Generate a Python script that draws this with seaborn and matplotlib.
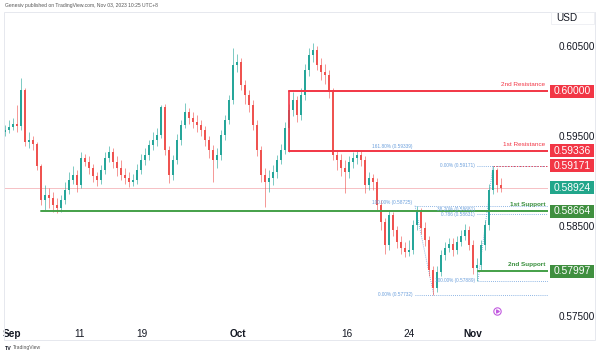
import numpy as np
import pandas as pd
import matplotlib
matplotlib.use("Agg")
import matplotlib.pyplot as plt
import matplotlib.transforms as mtransforms
from matplotlib.patches import Rectangle
import seaborn as sns

# ---------------- data (AUD/USD-like 0.5xxxx prices) ----------------
first_open = 0.59544
closes = [0.59567, 0.59600, 0.59633, 0.59611, 0.60011, 0.59433, 0.59456, 0.59411, 0.59167, 0.58789,
          0.58844, 0.58811, 0.58733, 0.58700, 0.58789, 0.58900, 0.59011, 0.59067, 0.58956, 0.59256,
          0.59211, 0.59144, 0.59056, 0.59011, 0.59122, 0.59256, 0.59322, 0.59211, 0.59144, 0.59067,
          0.59033, 0.58989, 0.59011, 0.59122, 0.59233, 0.59289, 0.59400, 0.59456, 0.59511, 0.59822,
          0.59344, 0.59067, 0.59233, 0.59456, 0.59622, 0.59767, 0.59700, 0.59656, 0.59622, 0.59567,
          0.59456, 0.59344, 0.59233, 0.59289, 0.59511, 0.59678, 0.59900, 0.60289, 0.60322, 0.60067,
          0.59956, 0.59844, 0.59622, 0.59344, 0.59067, 0.58989, 0.59033, 0.59100, 0.59233, 0.59344,
          0.59589, 0.59789, 0.59900, 0.59733, 0.59956, 0.60233, 0.60400, 0.60456, 0.60289, 0.60211,
          0.60178, 0.59989, 0.59289, 0.59233, 0.59144, 0.59100, 0.59211, 0.59256, 0.59289, 0.59233,
          0.58956, 0.59033, 0.58989, 0.58733, 0.58544, 0.58289, 0.58622, 0.58456, 0.58322, 0.58256,
          0.58211, 0.58233, 0.58511, 0.58656, 0.58478, 0.58344, 0.58011, 0.57811, 0.57989, 0.58178,
          0.58256, 0.58300, 0.58233, 0.58322, 0.58389, 0.58456, 0.58289, 0.58033, 0.58067, 0.58289,
          0.58511, 0.58900, 0.59122, 0.58956, 0.58924]
highs = [0.59622, 0.59678, 0.59700, 0.59844, 0.60144, 0.60033, 0.59544, 0.59500, 0.59433, 0.59189,
         0.58956, 0.58922, 0.58878, 0.58811, 0.58844, 0.58989, 0.59100, 0.59167, 0.59122, 0.59322,
         0.59300, 0.59278, 0.59189, 0.59100, 0.59178, 0.59322, 0.59389, 0.59367, 0.59278, 0.59233,
         0.59144, 0.59100, 0.59078, 0.59189, 0.59300, 0.59367, 0.59456, 0.59544, 0.59589, 0.59844,
         0.59856, 0.59389, 0.59289, 0.59522, 0.59678, 0.59867, 0.59811, 0.59767, 0.59733, 0.59678,
         0.59611, 0.59500, 0.59400, 0.59367, 0.59567, 0.59733, 0.59956, 0.60478, 0.60411, 0.60367,
         0.60122, 0.60011, 0.59900, 0.59678, 0.59389, 0.59144, 0.59122, 0.59178, 0.59289, 0.59411,
         0.59656, 0.59856, 0.59989, 0.59944, 0.60033, 0.60300, 0.60478, 0.60533, 0.60500, 0.60367,
         0.60300, 0.60233, 0.60033, 0.59344, 0.59300, 0.59233, 0.59278, 0.59322, 0.59344, 0.59344,
         0.59278, 0.59100, 0.59078, 0.59033, 0.58789, 0.58589, 0.58678, 0.58656, 0.58500, 0.58389,
         0.58322, 0.58344, 0.58567, 0.58725, 0.58700, 0.58544, 0.58389, 0.58056, 0.58056, 0.58233,
         0.58322, 0.58367, 0.58367, 0.58389, 0.58456, 0.58522, 0.58500, 0.58344, 0.58144, 0.58344,
         0.58567, 0.58967, 0.59171, 0.59144, 0.59033]
lows = [0.59500, 0.59533, 0.59567, 0.59544, 0.59567, 0.59389, 0.59367, 0.59344, 0.59122, 0.58733,
        0.58678, 0.58700, 0.58656, 0.58644, 0.58656, 0.58744, 0.58856, 0.58967, 0.58878, 0.58922,
        0.59167, 0.59078, 0.58989, 0.58944, 0.58967, 0.59078, 0.59211, 0.59144, 0.59056, 0.59011,
        0.58967, 0.58933, 0.58944, 0.58967, 0.59078, 0.59178, 0.59233, 0.59344, 0.59389, 0.59478,
        0.59289, 0.58978, 0.59011, 0.59189, 0.59400, 0.59589, 0.59633, 0.59589, 0.59544, 0.59500,
        0.59389, 0.59256, 0.58989, 0.59144, 0.59233, 0.59456, 0.59633, 0.59856, 0.60211, 0.60011,
        0.59856, 0.59767, 0.59567, 0.59278, 0.58989, 0.58711, 0.58878, 0.58956, 0.59033, 0.59189,
        0.59300, 0.59322, 0.59722, 0.59656, 0.59678, 0.59900, 0.60167, 0.60322, 0.60233, 0.60122,
        0.60078, 0.59922, 0.59233, 0.59122, 0.59056, 0.58867, 0.59033, 0.59144, 0.59189, 0.59167,
        0.58867, 0.58900, 0.58900, 0.58678, 0.58456, 0.58189, 0.58233, 0.58389, 0.58256, 0.58189,
        0.58156, 0.58167, 0.58189, 0.58456, 0.58411, 0.58278, 0.57944, 0.57732, 0.57767, 0.57944,
        0.58122, 0.58211, 0.58167, 0.58189, 0.58278, 0.58344, 0.58233, 0.57967, 0.57889, 0.58011,
        0.58233, 0.58456, 0.58856, 0.58878, 0.58878]

tick_labels = ["Sep", "11", "19", "Oct", "16", "24", "Nov"]
tick_pos = [1.75, 18.75, 34.25, 58.25, 85.5, 101.0, 117.0]   # candle index of each date
month_labels = {"Sep", "Oct", "Nov"}
price_ticks = [0.575, 0.585, 0.595, 0.605]   # others hidden behind price boxes

last_price = 0.58924
res2, res1 = 0.60000, 0.59336
sup1, sup2 = 0.58664, 0.57997
swing_high = 0.59171
res_start, sup1_start, sup2_start = 71, 9, 118.25

fib_upper_levels = [0.59339, 0.58725]
fib_upper_labels = ["161.80% (0.59339)", "100.00% (0.58725)"]
fib_mid_levels = [0.59171, 0.58681, 0.58631]
fib_mid_labels = ["0.00% (0.59171)", "38.20% (0.58681)", "0.786 (0.58631)"]
fib_low_levels = [0.57889, 0.57732]
fib_low_labels = ["100.00% (0.57889)", "0.00% (0.57732)"]

# ---------------- figure ----------------
sns.set_theme(style="white")
plt.rcParams["font.family"] = ["Liberation Sans", "DejaVu Sans"]

W, H = 600, 355
fig = plt.figure(figsize=(6.0, 3.55), dpi=100)
fig.patch.set_facecolor("white")
ax = fig.add_axes([4 / W, 1 - 322 / H, 544 / W, 310 / H])
ax.set_facecolor("white")
for s in ax.spines.values():
    s.set_visible(False)

n = len(closes)
idx = np.arange(n)
opens = np.array([first_open] + closes[:-1])
cl = np.array(closes)
hi = np.array(highs)
lo = np.array(lows)
up = cl >= opens
UP, DN = "#26a69a", "#ef5350"
colors = np.where(up, UP, DN)

ax.vlines(idx, lo, hi, colors=colors, lw=0.7, alpha=0.6, zorder=3)
body_bot = np.minimum(opens, cl)
body_h = np.maximum(np.abs(cl - opens), 0.00003)
ax.bar(idx, body_h, bottom=body_bot, width=0.55, color=colors, linewidth=0, zorder=4)

ax.set_xlim(-0.25, 135.75)
ax.set_ylim(0.574333, 0.608778)
xr = ax.get_xlim()[1]

# current price line
ax.axhline(last_price, color="#f5b5ba", lw=0.6, zorder=1)

RED, GREEN = "#f23645", "#43a047"
levels = pd.DataFrame({
    "x": [res_start, xr, res_start, xr, sup1_start, xr, sup2_start, xr],
    "y": [res2, res2, res1, res1, sup1, sup1, sup2, sup2],
    "name": ["r2", "r2", "r1", "r1", "s1", "s1", "s2", "s2"],
})
sns.lineplot(data=levels, x="x", y="y", hue="name", units="name", estimator=None,
             palette={"r2": RED, "r1": RED, "s1": GREEN, "s2": GREEN},
             lw=1.4, legend=False, ax=ax, zorder=5)
ax.plot([res_start, res_start], [res1, res2], color=RED, lw=1.2, zorder=5)
ax.set_xlabel("")
ax.set_ylabel("")

lab_x = (545 - 5) / 4
ax.text(lab_x, res2 + 0.00045, "2nd Resistance", color=RED, fontsize=4.6, ha="right", va="bottom", zorder=6)
ax.text(lab_x, res1 + 0.00045, "1st Resistance", color=RED, fontsize=4.6, ha="right", va="bottom", zorder=6)
ax.text(lab_x, sup1 + 0.00045, "1st Support", color="#388e3c", fontsize=4.6, ha="right", va="bottom",
        fontweight="bold", zorder=6)
ax.text(lab_x, sup2 + 0.00045, "2nd Support", color="#388e3c", fontsize=4.6, ha="right", va="bottom",
        fontweight="bold", zorder=6)

# fib drawings
FIB = "#6b9fdc"
fs_fib = 3.4
ax.hlines(fib_upper_levels, 102.5, xr, colors=FIB, lw=0.6, linestyles=(0, (1, 1.5)), zorder=2)
for lv, lb in zip(fib_upper_levels, fib_upper_labels):
    ax.text(101.8, lv + 0.00012, lb, color=FIB, fontsize=fs_fib, ha="right", va="bottom", zorder=6)
ax.hlines(fib_mid_levels, 118.0, xr, colors=FIB, lw=0.6, linestyles=(0, (1, 1.5)), zorder=2)
for lv, lb in zip(fib_mid_levels, fib_mid_labels):
    ax.text(117.5, lv, lb, color=FIB, fontsize=fs_fib, ha="right", va="center", zorder=6)
ax.hlines(swing_high, 122.0, xr, colors="#e0455a", lw=0.7, linestyles=(0, (1.5, 1.5)), zorder=2)
ax.hlines(fib_low_levels, [118.25, 102.5], xr, colors=FIB, lw=0.6, linestyles=(0, (1, 1.5)), zorder=2)
ax.text(117.5, fib_low_levels[0], fib_low_labels[0], color=FIB, fontsize=fs_fib, ha="right", va="center", zorder=6)
ax.text(101.8, fib_low_levels[1] + 0.0001, fib_low_labels[1], color=FIB, fontsize=fs_fib, ha="right",
        va="center", zorder=6)
ax.plot([102.5, 107.2], [fib_upper_levels[1], fib_low_levels[1]], color=FIB, lw=0.6, ls=(0, (1, 1.5)), zorder=2)
ax.plot([118.25, 122.0], [fib_low_levels[0], swing_high], color=FIB, lw=0.6, ls=(0, (1, 1.5)), zorder=2)

# purple icon
ax.scatter([(497 - 5) / 4], [0.5755], s=28, facecolor="white", edgecolor="#c25ae0", lw=0.8, zorder=6)
ax.scatter([(497 - 5) / 4], [0.5755], s=6, marker=(3, 0, 30), color="#c25ae0", zorder=7)

# x axis
ax.set_xticks(tick_pos)
ax.set_xticklabels(tick_labels)
ax.tick_params(axis="x", length=0, pad=5, labelsize=7.2, colors="#131722")
for t in ax.get_xticklabels():
    if t.get_text() in month_labels:
        t.set_fontweight("bold")

# y axis (right)
ax.yaxis.tick_right()
ax.set_yticks(price_ticks)
ax.set_yticklabels([f"{p:.5f}" for p in price_ticks])
ax.tick_params(axis="y", length=0, pad=8, labelsize=7.2, colors="#131722")

# price boxes
bt = mtransforms.blended_transform_factory(fig.transFigure, ax.transData)
box_h = 13 / 9000
boxes = [(res2, RED), (res1, RED), (swing_high, RED), (last_price, "#22a68b"), (sup1, "#3f8f3f"), (sup2, "#3f8f3f")]
for val, col in boxes:
    fig.add_artist(Rectangle((550 / W, val - box_h / 2), 44 / W, box_h, transform=bt,
                             facecolor=col, edgecolor="none", zorder=5))
    fig.text(572 / W, val, f"{val:.5f}", transform=bt, color="white", fontsize=7.4,
             ha="center", va="center", zorder=6)

# USD label
fig.add_artist(Rectangle((551 / W, 1 - 24 / H), 43 / W, 12 / H, transform=fig.transFigure,
                         facecolor="white", edgecolor="#eceef2", lw=0.6, zorder=5))
fig.text(556 / W, 1 - 18 / H, "USD", fontsize=7.2, color="#131722", va="center", ha="left", zorder=6)

# frame
fig.add_artist(Rectangle((4 / W, 1 - 340 / H), 591 / W, 328 / H, transform=fig.transFigure,
                         facecolor="none", edgecolor="#e6e8ee", lw=0.7, zorder=1))

fig.text(5 / W, 1 - 5 / H, "Genesiv published on TradingView.com, Nov 03, 2023 10:25 UTC+8",
         fontsize=3.6, color="#555555", va="center", ha="left")
fig.text(5 / W, 1 - 348 / H, "TV", fontsize=3.8, color="#131722", va="center", ha="left", fontweight="bold")
fig.text(13 / W, 1 - 348 / H, "TradingView", fontsize=3.6, color="#555555", va="center", ha="left")

fig.savefig("out.png", dpi=100, facecolor="white")
